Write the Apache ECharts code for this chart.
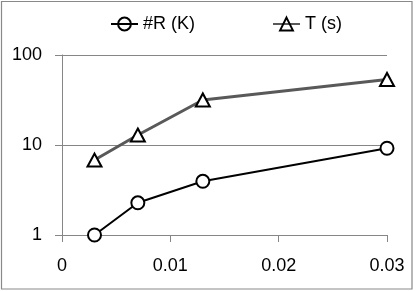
<!DOCTYPE html>
<html><head><meta charset="utf-8">
<script src="https://cdn.jsdelivr.net/npm/echarts@6/dist/echarts.min.js"></script>
<style>html,body{margin:0;padding:0;background:#fff}#c{width:416px;height:291px}</style>
</head><body><div id="c"></div>
<script>
const xValues = [0.003, 0.007, 0.013, 0.03];
const rValues = [1.0, 2.28, 3.95, 9.2];
const tValues = [6.8, 12.9, 31.6, 53.5];
const seriesNames = ['#R (K)', 'T (s)'];
const xTicks = [0, 0.01, 0.02, 0.03];
const yTicks = [1, 10, 100];

const chart = echarts.init(document.getElementById('c'), null, {renderer: 'canvas'});
const font = 'Liberation Sans';
const pairs = v => xValues.map((x, i) => [x, v[i]]);
chart.setOption({
  animation: false,
  textStyle: {fontFamily: font},
  graphic: [{type: 'rect', shape: {x: 1.5, y: 1.5, width: 410.5, height: 287.5},
    style: {fill: 'none', stroke: '#898989', lineWidth: 1.2}, silent: true}],
  legend: {
    top: 15, left: 110, itemGap: 77, itemWidth: 27, itemHeight: 16, padding: 0,
    textStyle: {fontSize: 18, color: '#000', fontFamily: font},
    data: seriesNames.map(n => ({name: n, itemStyle: {color: 'rgba(255,255,255,0)', borderColor: '#000', borderWidth: 2}}))
  },
  grid: {left: 62, right: 29, top: 55, bottom: 56, containLabel: false},
  xAxis: {
    type: 'value', min: xTicks[0], max: xTicks[xTicks.length - 1], interval: 0.01,
    axisLine: {lineStyle: {color: '#868686', width: 1}},
    axisTick: {show: true, length: 7, lineStyle: {color: '#868686'}},
    splitLine: {show: false},
    axisLabel: {fontSize: 18, color: '#000', margin: 22, fontFamily: font}
  },
  yAxis: {
    type: 'log', logBase: 10, min: yTicks[0], max: yTicks[yTicks.length - 1],
    axisLine: {show: true, lineStyle: {color: '#868686', width: 1}},
    axisTick: {show: true, length: 7, lineStyle: {color: '#868686'}},
    splitLine: {show: true, lineStyle: {color: '#868686', width: 1}},
    minorTick: {show: false},
    axisLabel: {fontSize: 18, color: '#000', margin: 20, fontFamily: font}
  },
  series: [
    {name: seriesNames[0], type: 'line', data: pairs(rValues), symbol: 'circle', symbolSize: 13,
     lineStyle: {color: '#000', width: 2}, itemStyle: {color: '#fff', borderColor: '#000', borderWidth: 2},
     z: 3},
    {name: seriesNames[1], type: 'line', data: pairs(tValues), symbol: 'triangle', symbolSize: [14, 13],
     lineStyle: {color: '#595959', width: 3}, itemStyle: {color: '#fff', borderColor: '#000', borderWidth: 2},
     z: 2}
  ]
});
</script></body></html>
